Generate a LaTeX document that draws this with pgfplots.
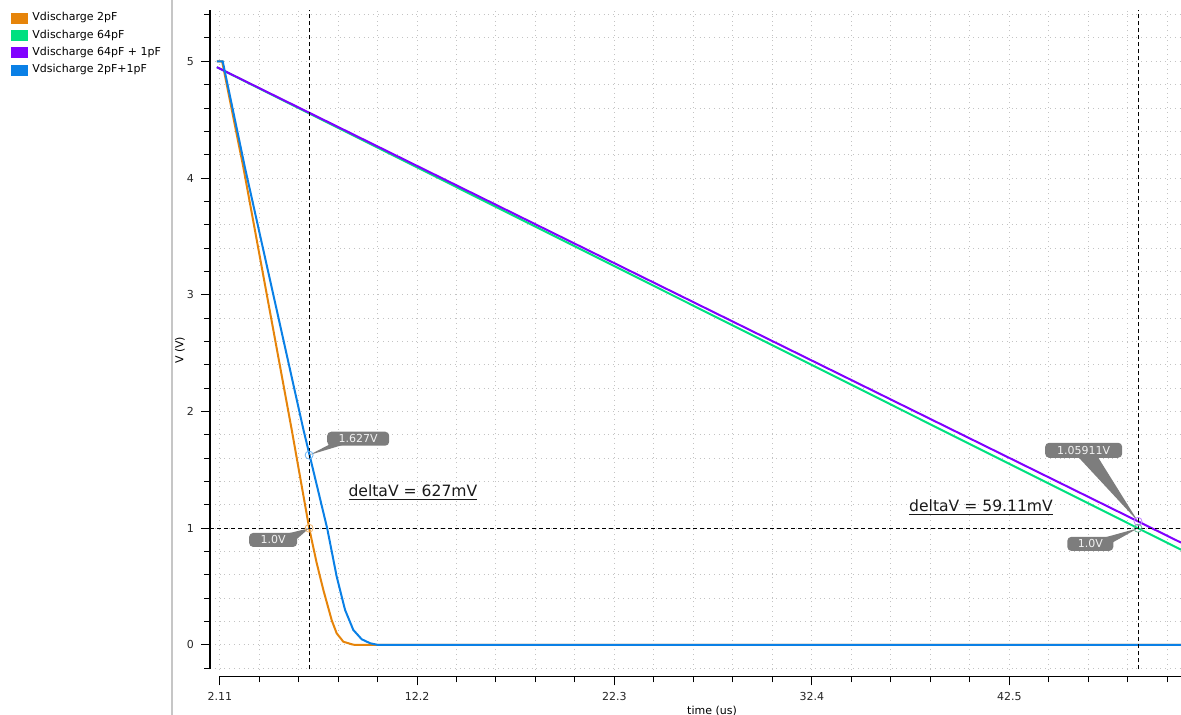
\documentclass[border=0pt]{standalone}
\usepackage{fontspec}
\setmainfont{DejaVu Sans}
\usepackage{pgfplots}
\pgfplotsset{compat=1.18}
\definecolor{corange}{RGB}{230,132,10}
\definecolor{cgreen}{RGB}{0,224,128}
\definecolor{cpurple}{RGB}{128,0,255}
\definecolor{cblue}{RGB}{10,128,230}
\definecolor{labgray}{RGB}{125,125,125}
\definecolor{gridgray}{RGB}{195,195,195}
\begin{document}
\begin{tikzpicture}
\path[use as bounding box] (0pt,0pt) rectangle (590.5pt,357.5pt);
\draw[gray!45, line width=0.7pt] (86pt,0pt) -- (86pt,357.5pt);
\begin{axis}[
  at={(105pt,22.75pt)}, anchor=south west,
  scale only axis, width=485.5pt, height=329.75pt,
  xmin=1.61, xmax=51.28, ymin=-0.21, ymax=5.44,
  clip=false,
  axis x line*=bottom, axis y line*=left,
  axis x line shift=3.5pt,
  axis line style={-, black, line width=0.6pt},
  x axis line style={shorten <=4.6pt},
  xtick={2.11,12.2,22.3,32.4,42.5},
  xticklabels={2.11,12.2,22.3,32.4,42.5},
  minor xtick={4.128,6.146,8.164,10.182,14.218,16.236,18.254,20.272,24.318,26.336,28.354,30.372,34.408,36.426,38.444,40.462,44.518,46.536,48.554,50.572},
  ytick={0,1,2,3,4,5},
  minor ytick={-0.2,0.2,0.4,0.6,0.8,1.2,1.4,1.6,1.8,2.2,2.4,2.6,2.8,3.2,3.4,3.6,3.8,4.2,4.4,4.6,4.8,5.2,5.4},
  tick align=outside,
  major tick length=4.5pt, minor tick length=3pt,
  tick style={black, line width=0.5pt},
  grid=both,
  major grid style={gridgray, dotted, line width=0.5pt},
  minor grid style={gridgray, dotted, line width=0.5pt},
  ticklabel style={font=\fontsize{5.5}{6}\selectfont, text=black!85},
  /pgf/number format/assume math mode=true,
  legend style={at={(axis description cs:-0.2049,1.0027)}, anchor=north west,
    draw=none, fill=none, inner sep=0pt, row sep=-1.05pt,
    font=\fontsize{5.5}{6}\selectfont},
  legend cell align=left,
  legend image code/.code={\fill[#1] (0pt,-2.25pt) rectangle (7.5pt,2.25pt);},
]
% Vdischarge 2pF
\addplot[corange, line width=1pt] coordinates {
(1.96,5.0) (2.23,5.0) (3.32,4.088) (5.79,1.844) (6.69,0.995) (7.07,0.70)
(7.41,0.47) (7.84,0.21) (8.09,0.10) (8.43,0.028) (8.86,0.006) (9.03,0) (51.28,0)};
\addlegendentry{Vdischarge 2pF}
% Vdischarge 64pF
\addplot[cgreen, line width=1pt] coordinates {(1.96,4.95) (49.08,1.0) (51.28,0.816)};
\addlegendentry{Vdischarge 64pF}
% Vdischarge 64pF + 1pF
\addplot[cpurple, line width=1pt] coordinates {(1.96,4.95) (49.08,1.059) (51.28,0.877)};
\addlegendentry{Vdischarge 64pF + 1pF}
% Vdsicharge 2pF+1pF
\addplot[cblue, line width=1pt] coordinates {
(1.96,5.0) (2.26,5.0) (3.40,4.088) (6.39,1.844) (6.69,1.636) (7.61,0.995)
(8.09,0.586) (8.52,0.30) (8.94,0.129) (9.37,0.049) (9.80,0.015) (10.21,0) (51.28,0)};
\addlegendentry{Vdsicharge 2pF+1pF}
% cursors
\addplot[black, dashed, line width=0.5pt, dash pattern=on 2pt off 1.5pt, forget plot] coordinates {(6.68,-0.21) (6.68,5.44)};
\addplot[black, dashed, line width=0.5pt, dash pattern=on 2pt off 1.5pt, forget plot] coordinates {(49.08,-0.21) (49.08,5.44)};
\addplot[black, dashed, line width=0.5pt, dash pattern=on 2pt off 1.5pt, forget plot] coordinates {(1.61,1.0) (51.28,1.0)};
% pointers
\fill[labgray] (axis cs:7.75,1.72) -- (axis cs:8.52,1.72) -- (axis cs:6.68,1.627) -- cycle;
\fill[labgray] (axis cs:5.46,0.95) -- (axis cs:6.0,0.90) -- (axis cs:6.68,1.0) -- cycle;
\fill[labgray] (axis cs:45.97,1.62) -- (axis cs:46.99,1.62) -- (axis cs:49.08,1.059) -- cycle;
\fill[labgray] (axis cs:47.14,0.91) -- (axis cs:47.75,0.875) -- (axis cs:49.08,1.0) -- cycle;
% markers
\addplot[only marks, mark=o, mark size=2pt, cblue!60, forget plot] coordinates {(6.68,1.627)};
\addplot[only marks, mark=o, mark size=2pt, corange!60, forget plot] coordinates {(6.68,1.0)};
\addplot[only marks, mark=o, mark size=2pt, cpurple!50, forget plot] coordinates {(49.08,1.059)};
\addplot[only marks, mark=o, mark size=2pt, cgreen!60!black!60, forget plot] coordinates {(49.08,1.0)};
% boxes
\tikzset{lbl/.style={fill=labgray, rounded corners=2pt, text=white!95!black, inner sep=0pt,
  minimum height=7pt, font=\fontsize{5.5}{6}\selectfont}}
\node[lbl, minimum width=31pt] at (axis cs:9.19,1.767) {1.627V};
\node[lbl, minimum width=24pt] at (axis cs:4.84,0.90) {1.0V};
\node[lbl, minimum width=38.5pt, minimum height=7.5pt] at (axis cs:46.30,1.668) {1.05911V};
\node[lbl, minimum width=23pt] at (axis cs:46.64,0.866) {1.0V};
% delta labels
\node[font=\fontsize{7.8}{9}\selectfont, text=black!90] at (axis cs:11.99,1.304) {\underline{deltaV = 627mV}};
\node[font=\fontsize{7.8}{9}\selectfont, text=black!90] at (axis cs:41.05,1.175) {\underline{deltaV = 59.11mV}};
% axis labels
\node[rotate=90, font=\fontsize{5.5}{6}\selectfont] at (axis description cs:-0.0309,0.484) {V (V)};
\node[font=\fontsize{5.5}{6}\selectfont] at (axis description cs:0.517,-0.0629) {time (us)};
\end{axis}
\end{tikzpicture}
\end{document}
